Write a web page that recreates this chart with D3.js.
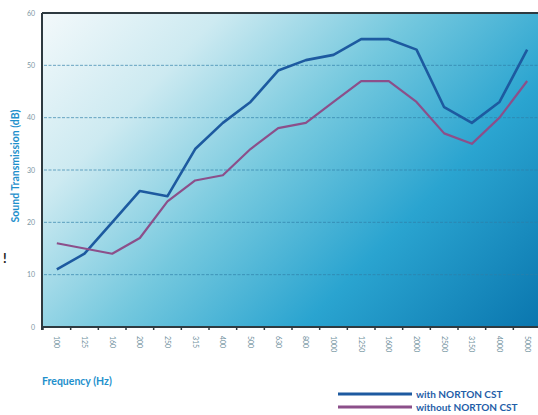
<!DOCTYPE html>
<html><head><meta charset="utf-8">
<script src="https://cdn.jsdelivr.net/npm/d3@7"></script>
<style>html,body{margin:0;padding:0;background:#fff;}svg{display:block;}</style>
</head><body>
<script>
const categories = ["100","125","160","200","250","315","400","500","630","800","1000","1250","1600","2000","2500","3150","4000","5000"];
const withCST    = [11,14,20,26,25,34,39,43,49,51,52,55,55,53,42,39,43,53];
const withoutCST = [16,15,14,17,24,28,29,34,38,39,43,47,47,43,37,35,40,47];
const yTicks = [0,10,20,30,40,50,60];
const seriesNames = ["with NORTON CST","without NORTON CST"];
const seriesColors = ["#1d5aa0","#8c4f8a"];

const W = 538, H = 415;
const svg = d3.select("body").append("svg").attr("width", W).attr("height", H);
const font = "Lato, 'Open Sans', sans-serif";

const x = d3.scaleBand().domain(categories).range([43, 541]).padding(0);
const y = d3.scaleLinear().domain([0, 60]).range([327, 13]);

const defs = svg.append("defs");
const g = defs.append("linearGradient").attr("id","bg")
  .attr("gradientUnits","userSpaceOnUse")
  .attr("x1",50).attr("y1",0).attr("x2",480).attr("y2",420);
[[0,"#f4f9fb"],[0.22,"#cdeaf1"],[0.45,"#74c8de"],[0.68,"#2aa4d0"],[1,"#0670aa"]]
  .forEach(([o,c]) => g.append("stop").attr("offset",o).attr("stop-color",c));

svg.append("rect").attr("x",43).attr("y",y(60)).attr("width",W-43).attr("height",y(0)-y(60)).attr("fill","url(#bg)");

// gridlines
svg.append("g").selectAll("line").data(yTicks.filter(d=>d>0&&d<60)).join("line")
  .attr("x1",44).attr("x2",W).attr("y1",d=>y(d)).attr("y2",d=>y(d))
  .attr("stroke","#2f7fa8").attr("stroke-width",0.9).attr("stroke-dasharray","3,1.5").attr("opacity",0.75);

// borders
svg.append("line").attr("x1",42).attr("x2",W).attr("y1",y(60)).attr("y2",y(60)).attr("stroke","#2e3a40").attr("stroke-width",2);
svg.append("line").attr("x1",42).attr("x2",42).attr("y1",y(60)).attr("y2",y(0)+3).attr("stroke","#2e3a40").attr("stroke-width",2);
svg.append("line").attr("x1",42).attr("x2",W).attr("y1",y(0)).attr("y2",y(0)).attr("stroke","#2e3a40").attr("stroke-width",2);

// x ticks at band boundaries
svg.append("g").selectAll("line").data(categories).join("line")
  .attr("x1",d=>x(d)).attr("x2",d=>x(d)).attr("y1",y(0)).attr("y2",y(0)+3)
  .attr("stroke","#2e3a40").attr("stroke-width",1.5);

// x tick labels
svg.append("g").selectAll("text").data(categories).join("text")
  .attr("transform",d=>`translate(${x(d)+x.bandwidth()/2-2.5},${336}) rotate(90)`)
  .attr("font-family",font).attr("font-size",7).attr("fill","#6f8f9c")
  .text(d=>d);

// y tick labels
svg.append("g").selectAll("text").data(yTicks).join("text")
  .attr("x",35).attr("y",d=>y(d)+2.5).attr("text-anchor","end")
  .attr("font-family",font).attr("font-size",7).attr("fill","#7c97a4")
  .text(d=>d);

// lines
const line = d3.line().x((d,i)=>x(categories[i])+x.bandwidth()/2).y(d=>y(d));
[withCST, withoutCST].forEach((s,i)=>{
  svg.append("path").datum(s).attr("d",line).attr("fill","none")
    .attr("stroke",seriesColors[i]).attr("stroke-width",i===0?2.6:2.2).attr("stroke-linejoin","round");
});

// axis titles
svg.append("text").attr("transform","translate(19,166) rotate(-90)").attr("text-anchor","middle")
  .attr("font-family",font).attr("font-weight","bold").attr("font-size",10.5).attr("fill","#1e90cc")
  .text("Sound Transmission (dB)");
svg.append("text").attr("x",42).attr("y",385)
  .attr("font-family",font).attr("font-weight","bold").attr("font-size",10.5).attr("fill","#1e90cc")
  .text("Frequency (Hz)");

svg.append("text").attr("x",3).attr("y",263).attr("font-family",font).attr("font-weight","bold")
  .attr("font-size",13).attr("fill","#222").text("!");

// legend
const lg = svg.append("g");
seriesNames.forEach((n,i)=>{
  const yy = 394 + i*13;
  lg.append("line").attr("x1",338).attr("x2",412).attr("y1",yy).attr("y2",yy)
    .attr("stroke",seriesColors[i]).attr("stroke-width",3);
  lg.append("text").attr("x",416).attr("y",yy+3.5).attr("font-family",font).attr("font-weight","bold")
    .attr("font-size",10).attr("fill","#1f5ea8").text(n);
});
</script>
</body></html>
